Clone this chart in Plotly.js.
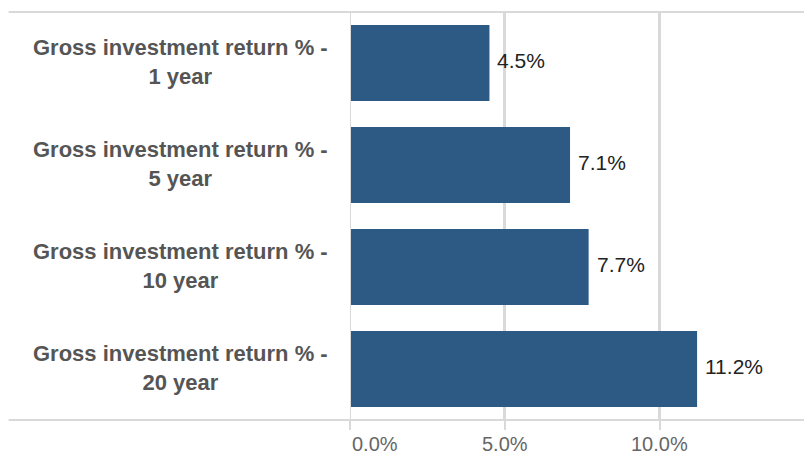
<!DOCTYPE html>
<html><head><meta charset="utf-8">
<script src="https://cdn.plot.ly/plotly-3.0.1.min.js"></script>
<style>html,body{margin:0;padding:0;background:#fff}#chart{width:804px;height:457px}</style>
</head><body><div id="chart"></div>
<script>
const categories = ["Gross investment return % -<br>1 year","Gross investment return % -<br>5 year","Gross investment return % -<br>10 year","Gross investment return % -<br>20 year"];
const values = [4.5, 7.1, 7.7, 11.2];
const valueLabels = ["4.5%","7.1%","7.7%","11.2%"];
const tickVals = [0, 5, 10];
const tickText = ["0.0%","5.0%","10.0%"];

const grid = '#d9d9d9';
const fam = 'Liberation Sans, Arial, sans-serif';
const trace = {
  type: 'bar', orientation: 'h',
  x: values, y: categories,
  marker: {color: '#2d5985'},
  hoverinfo: 'none'
};
const annotations = [];
categories.forEach((c,i)=>{
  annotations.push({x: values[i], y: c, xref:'x', yref:'y', text: valueLabels[i], showarrow:false,
    xanchor:'left', xshift:6, yshift:3, font:{family:fam, size:21, color:'#222'}});
  annotations.push({x: -0.374, y: c, xref:'paper', yref:'y', text: '<b>'+c+'</b>', showarrow:false,
    xanchor:'center', align:'center', yshift:1, font:{family:fam, size:22, color:'#555'}});
});
tickVals.forEach((v,i)=>{
  annotations.push({x: v, y: 0, xref:'x', yref:'paper', text: tickText[i], showarrow:false,
    xanchor: i===0 ? 'left' : 'center', xshift: i===0 ? 1 : 0, yanchor:'middle', yshift:-24, borderpad:0,
    font:{family:fam, size:20, color:'#666'}});
});
const layout = {
  width: 804, height: 457,
  margin: {l:350, r:0, t:12, b:37},
  paper_bgcolor:'#fff', plot_bgcolor:'#fff',
  bargap: 0.255,
  showlegend:false,
  xaxis: {range:[0, 14.65], tickvals: tickVals, showticklabels:false, showgrid:true, gridcolor: grid, gridwidth:3,
    zeroline:false, ticks:'outside', ticklen:9, tickwidth:2, tickcolor: grid, showline:false, fixedrange:true},
  yaxis: {autorange:'reversed', showticklabels:false, showgrid:false, zeroline:false, showline:false, fixedrange:true},
  annotations: annotations,
  shapes: [
    {type:'line', xref:'paper', yref:'paper', x0:-0.752, x1:1, y0:1, y1:1, line:{color:grid, width:2}},
    {type:'line', xref:'paper', yref:'paper', x0:-0.752, x1:1, y0:0, y1:0, line:{color:grid, width:2}},
    {type:'line', xref:'x', yref:'paper', x0:0, x1:0, y0:0, y1:1, line:{color:grid, width:2}}
  ]
};
Plotly.newPlot('chart', [trace], layout, {displayModeBar:false, staticPlot:true});
</script></body></html>
